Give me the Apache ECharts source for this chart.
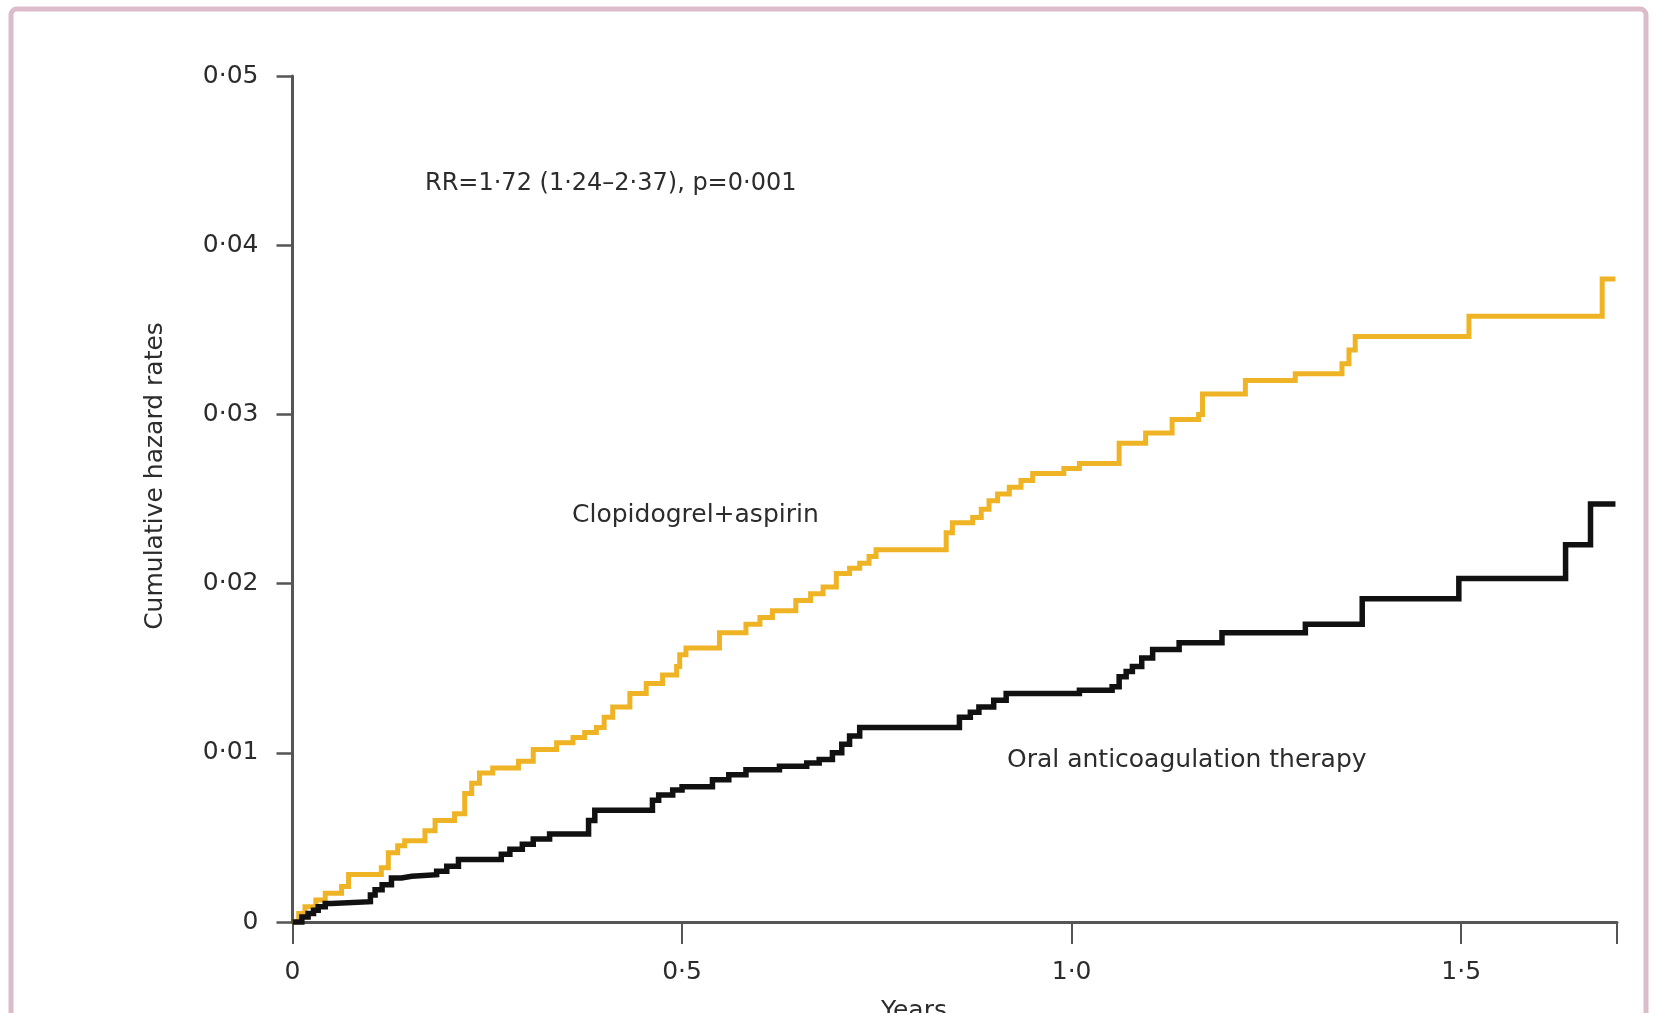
<!DOCTYPE html>
<html>
<head>
<meta charset="utf-8">
<script src="https://cdn.jsdelivr.net/npm/echarts@6/dist/echarts.min.js"></script>
<style>
html,body{margin:0;padding:0;background:#fff;}
#chart{width:1653px;height:1013px;}
</style>
</head>
<body>
<div id="chart"></div>
<script>
// ---- data ----
const oacTimes = [0, 0.012, 0.020, 0.027, 0.033, 0.042, 0.050, 0.100, 0.106, 0.115, 0.127, 0.140, 0.153, 0.185, 0.198, 0.213, 0.268, 0.279, 0.295, 0.309, 0.330, 0.380, 0.388, 0.462, 0.470, 0.488, 0.500, 0.539, 0.560, 0.582, 0.625, 0.660, 0.676, 0.693, 0.705, 0.715, 0.728, 0.856, 0.870, 0.881, 0.900, 0.916, 1.010, 1.052, 1.061, 1.070, 1.078, 1.090, 1.104, 1.138, 1.193, 1.300, 1.373, 1.497, 1.634, 1.666, 1.698];
const oacValues = [0, 0.0003, 0.0005, 0.0007, 0.0009, 0.0011, 0.0012, 0.0016, 0.0019, 0.0022, 0.0026, 0.0027, 0.0028, 0.0030, 0.0033, 0.0037, 0.0040, 0.0043, 0.0046, 0.0049, 0.0052, 0.0060, 0.0066, 0.0072, 0.0075, 0.0078, 0.0080, 0.0084, 0.0087, 0.0090, 0.0092, 0.0094, 0.0096, 0.0100, 0.0105, 0.0110, 0.0115, 0.0121, 0.0124, 0.0127, 0.0131, 0.0135, 0.0137, 0.0139, 0.0145, 0.0148, 0.0151, 0.0156, 0.0161, 0.0165, 0.0171, 0.0176, 0.0191, 0.0203, 0.0223, 0.0247, 0.0247];

const cloTimes = [0, 0.008, 0.016, 0.030, 0.042, 0.063, 0.072, 0.114, 0.123, 0.135, 0.144, 0.170, 0.183, 0.208, 0.221, 0.230, 0.240, 0.257, 0.290, 0.309, 0.339, 0.360, 0.375, 0.390, 0.400, 0.411, 0.433, 0.454, 0.475, 0.493, 0.497, 0.505, 0.548, 0.582, 0.600, 0.616, 0.646, 0.665, 0.681, 0.698, 0.715, 0.728, 0.740, 0.749, 0.839, 0.847, 0.873, 0.884, 0.894, 0.905, 0.920, 0.935, 0.950, 0.990, 1.010, 1.061, 1.095, 1.129, 1.163, 1.168, 1.223, 1.287, 1.347, 1.356, 1.364, 1.510, 1.681, 1.698];
const cloValues = [0, 0.0005, 0.0009, 0.0013, 0.0017, 0.0021, 0.0028, 0.0032, 0.0041, 0.0045, 0.0048, 0.0054, 0.0060, 0.0064, 0.0076, 0.0082, 0.0088, 0.0091, 0.0095, 0.0102, 0.0106, 0.0109, 0.0112, 0.0115, 0.0121, 0.0127, 0.0135, 0.0141, 0.0146, 0.0151, 0.0158, 0.0162, 0.0171, 0.0176, 0.0180, 0.0184, 0.0190, 0.0194, 0.0198, 0.0206, 0.0209, 0.0212, 0.0216, 0.0220, 0.0230, 0.0236, 0.0239, 0.0244, 0.0249, 0.0253, 0.0257, 0.0261, 0.0265, 0.0268, 0.0271, 0.0283, 0.0289, 0.0297, 0.0300, 0.0312, 0.0320, 0.0324, 0.0330, 0.0338, 0.0346, 0.0358, 0.0380, 0.0380];

const xTickValues = [0, 0.5, 1.0, 1.5];
const xTickLabels = ['0', '0·5', '1·0', '1·5'];
const yTickValues = [0, 0.01, 0.02, 0.03, 0.04, 0.05];
const yTickLabels = ['0', '0·01', '0·02', '0·03', '0·04', '0·05'];

const seriesNames = ['Clopidogrel+aspirin', 'Oral anticoagulation therapy'];
const annotation = 'RR=1·72 (1·24–2·37), p=0·001';
const xTitle = 'Years';
const yTitle = 'Cumulative hazard rates';

// ---- chart ----
const FONT = 'DejaVu Sans';
const TXT = '#2c2c2c';
const AXIS = '#555555';

function zip(a, b) { return a.map((t, i) => [t, b[i]]); }
function lookup(vals, labels) {
  return v => { const i = vals.findIndex(x => Math.abs(x - v) < 1e-9); return i >= 0 ? labels[i] : ''; };
}

const chart = echarts.init(document.getElementById('chart'), null, { renderer: 'canvas' });
const gridL = 292.5, gridR = 36, gridT = 76, gridB = 91;

chart.setOption({
  backgroundColor: '#ffffff',
  animation: false,
  grid: { left: gridL, right: gridR, top: gridT, bottom: gridB, containLabel: false },
  xAxis: [{
    type: 'value', min: 0, max: 1.7, interval: 0.5,
    axisLine: { show: true, onZero: false, lineStyle: { color: AXIS, width: 3 } },
    axisTick: { show: true, inside: false, length: 22, lineStyle: { color: AXIS, width: 2 } },
    axisLabel: { show: true, margin: 38, color: TXT, fontFamily: FONT, fontSize: 25,
      formatter: lookup(xTickValues, xTickLabels), showMaxLabel: false },
    splitLine: { show: false }
  }, {
    type: 'value', min: 0, max: 1.7, interval: 1.7, position: 'bottom',
    axisLine: { show: false },
    axisTick: { show: true, length: 22, lineStyle: { color: AXIS, width: 2 } },
    axisLabel: { show: false }, splitLine: { show: false }
  }],
  yAxis: {
    type: 'value', min: 0, max: 0.05, interval: 0.01,
    axisLine: { show: true, onZero: false, lineStyle: { color: AXIS, width: 3 } },
    axisTick: { show: true, length: 16, lineStyle: { color: AXIS, width: 2.5 } },
    axisLabel: { show: true, margin: 34, color: TXT, fontFamily: FONT, fontSize: 25,
      formatter: lookup(yTickValues, yTickLabels) },
    splitLine: { show: false }
  },
  series: [{
    name: seriesNames[0], type: 'line', step: 'end', showSymbol: false, symbol: 'none',
    data: zip(cloTimes, cloValues), clip: false,
    lineStyle: { color: '#efb425', width: 5, join: 'miter' }, z: 3
  }, {
    name: seriesNames[1], type: 'line', step: 'end', showSymbol: false, symbol: 'none',
    data: zip(oacTimes, oacValues), clip: false,
    lineStyle: { color: '#111111', width: 5.5, join: 'miter' }, z: 4
  }],
  graphic: [
    { type: 'rect', silent: true, z: 0,
      shape: { x: 11, y: 9, width: 1635, height: 1040, r: 6 },
      style: { fill: 'none', stroke: '#dcbcca', lineWidth: 5 } },
    { type: 'text', x: 425, y: 184, z: 10,
      style: { text: annotation, font: '24px "DejaVu Sans"', fill: TXT, textAlign: 'left', textVerticalAlign: 'middle' } },
    { type: 'text', x: 572, y: 515, z: 10,
      style: { text: seriesNames[0], font: '25px "DejaVu Sans"', fill: TXT, textAlign: 'left', textVerticalAlign: 'middle' } },
    { type: 'text', x: 1007, y: 760, z: 10,
      style: { text: seriesNames[1], font: '25px "DejaVu Sans"', fill: TXT, textAlign: 'left', textVerticalAlign: 'middle' } },
    { type: 'text', x: 155, y: 476, rotation: Math.PI / 2, z: 10,
      style: { text: yTitle, font: '25px "DejaVu Sans"', fill: TXT, textAlign: 'center', textVerticalAlign: 'middle' } },
    { type: 'text', x: 914, y: 999, z: 10,
      style: { text: xTitle, font: '25px "DejaVu Sans"', fill: TXT, textAlign: 'center', textVerticalAlign: 'top' } }
  ]
});
</script>
</body>
</html>
